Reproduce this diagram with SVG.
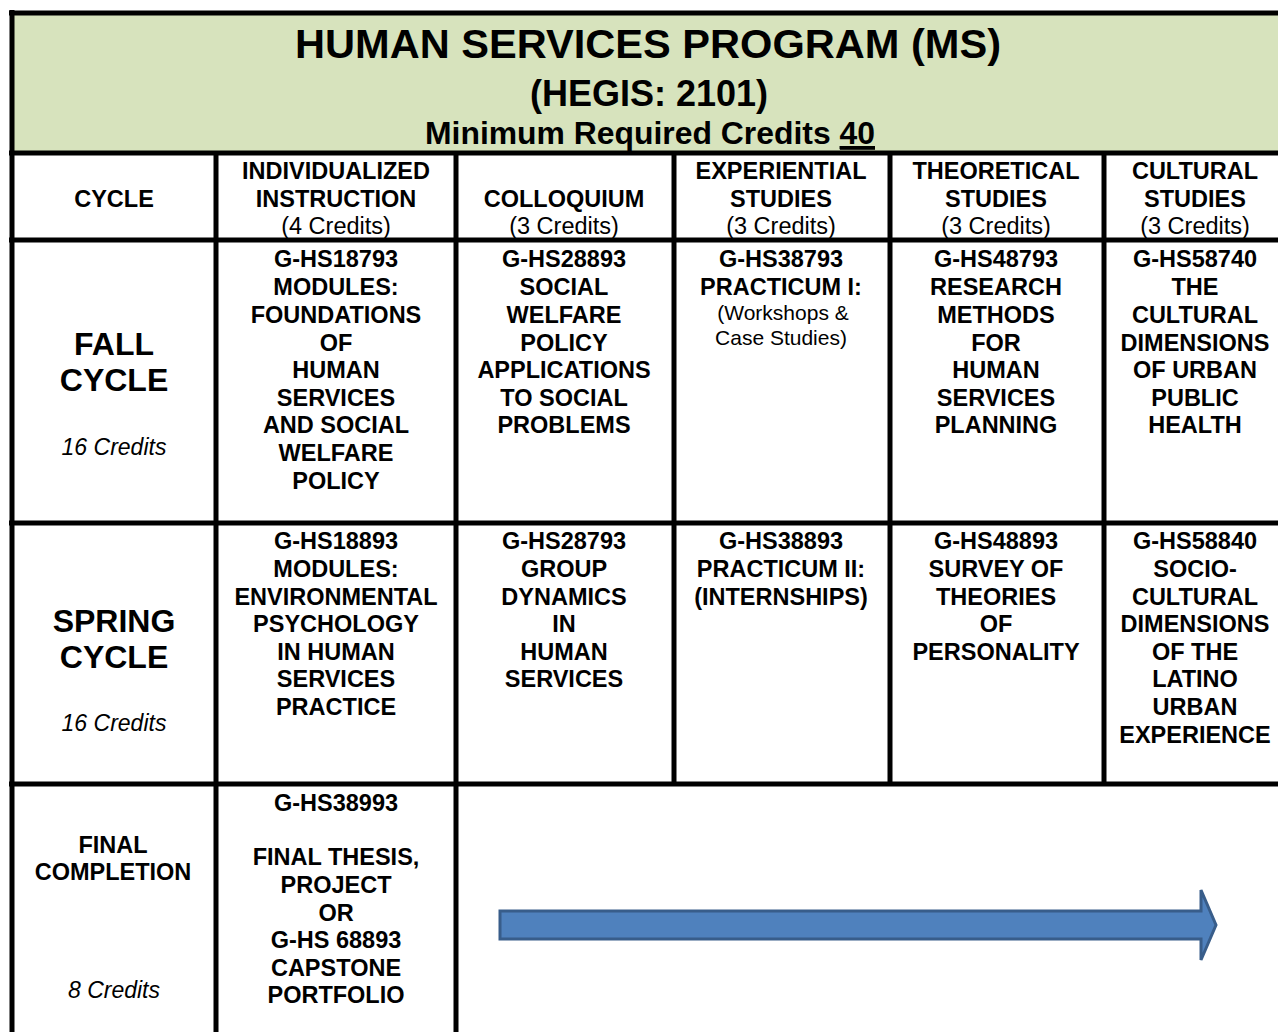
<svg xmlns="http://www.w3.org/2000/svg" width="1278" height="1032" viewBox="0 0 1278 1032">
<style>
text{font-family:"Liberation Sans",Arial,sans-serif;text-anchor:middle;fill:#000}
.b{font-weight:bold;font-size:23.5px}
.r{font-size:23.5px}
.s{font-size:21px}
.big{font-weight:bold;font-size:32px}
.it{font-style:italic;font-size:23px}
.grid{stroke:#000;stroke-width:5;fill:none}
</style>
<rect width="1278" height="1032" fill="#fff"/>
<rect x="12" y="13" width="1270" height="140" fill="#D7E3BD"/>
<g id="grid" class="grid">
<line x1="9" y1="13" x2="1278" y2="13"/>
<line x1="12" y1="10" x2="12" y2="1032"/>
<line x1="9" y1="153" x2="1278" y2="153"/>
<line x1="9" y1="240" x2="1278" y2="240"/>
<line x1="9" y1="523" x2="1278" y2="523"/>
<line x1="9" y1="784" x2="1278" y2="784"/>
<line x1="216" y1="153" x2="216" y2="1032"/>
<line x1="456" y1="153" x2="456" y2="1032"/>
<line x1="674" y1="153" x2="674" y2="784"/>
<line x1="890" y1="153" x2="890" y2="784"/>
<line x1="1104" y1="153" x2="1104" y2="784"/>
</g>
<g id="title">
<text x="648" y="58" font-weight="bold" font-size="40" textLength="706" lengthAdjust="spacingAndGlyphs">HUMAN SERVICES PROGRAM (MS)</text>
<text x="649" y="106" font-weight="bold" font-size="36">(HEGIS: 2101)</text>
<text x="650" y="144" font-weight="bold" font-size="32" textLength="450" lengthAdjust="spacingAndGlyphs">Minimum Required Credits <tspan text-decoration="underline">40</tspan></text>
<line x1="840" y1="148.5" x2="875" y2="148.5" stroke="#000" stroke-width="2.5"/>
</g>
<g id="hdr-cycle"><text class="b" x="114" y="207">CYCLE</text></g>
<g id="hdr-individualized">
<text class="b" x="336" y="179">INDIVIDUALIZED</text>
<text class="b" x="336" y="207">INSTRUCTION</text>
<text class="r" x="336" y="234">(4 Credits)</text>
</g>
<g id="hdr-colloquium">
<text class="b" x="564" y="207">COLLOQUIUM</text>
<text class="r" x="564" y="234">(3 Credits)</text>
</g>
<g id="hdr-experiential">
<text class="b" x="781" y="179">EXPERIENTIAL</text>
<text class="b" x="781" y="207">STUDIES</text>
<text class="r" x="781" y="234">(3 Credits)</text>
</g>
<g id="hdr-theoretical">
<text class="b" x="996" y="179">THEORETICAL</text>
<text class="b" x="996" y="207">STUDIES</text>
<text class="r" x="996" y="234">(3 Credits)</text>
</g>
<g id="hdr-cultural">
<text class="b" x="1195" y="179">CULTURAL</text>
<text class="b" x="1195" y="207">STUDIES</text>
<text class="r" x="1195" y="234">(3 Credits)</text>
</g>
<g id="fall-cycle">
<text class="big" x="114" y="355">FALL</text>
<text class="big" x="114" y="391">CYCLE</text>
<text class="it" x="114" y="455">16 Credits</text>
</g>
<g id="fall-individualized">
<text class="b" x="336" y="267">G-HS18793</text>
<text class="b" x="336" y="295">MODULES:</text>
<text class="b" x="336" y="323">FOUNDATIONS</text>
<text class="b" x="336" y="351">OF</text>
<text class="b" x="336" y="378">HUMAN</text>
<text class="b" x="336" y="406">SERVICES</text>
<text class="b" x="336" y="433">AND SOCIAL</text>
<text class="b" x="336" y="461">WELFARE</text>
<text class="b" x="336" y="489">POLICY</text>
</g>
<g id="fall-colloquium">
<text class="b" x="564" y="267">G-HS28893</text>
<text class="b" x="564" y="295">SOCIAL</text>
<text class="b" x="564" y="323">WELFARE</text>
<text class="b" x="564" y="351">POLICY</text>
<text class="b" x="564" y="378">APPLICATIONS</text>
<text class="b" x="564" y="406">TO SOCIAL</text>
<text class="b" x="564" y="433">PROBLEMS</text>
</g>
<g id="fall-experiential">
<text class="b" x="781" y="267">G-HS38793</text>
<text class="b" x="781" y="295">PRACTICUM I:</text>
<text class="s" x="783" y="320">(Workshops &amp;</text>
<text class="s" x="781" y="345">Case Studies)</text>
</g>
<g id="fall-theoretical">
<text class="b" x="996" y="267">G-HS48793</text>
<text class="b" x="996" y="295">RESEARCH</text>
<text class="b" x="996" y="323">METHODS</text>
<text class="b" x="996" y="351">FOR</text>
<text class="b" x="996" y="378">HUMAN</text>
<text class="b" x="996" y="406">SERVICES</text>
<text class="b" x="996" y="433">PLANNING</text>
</g>
<g id="fall-cultural">
<text class="b" x="1195" y="267">G-HS58740</text>
<text class="b" x="1195" y="295">THE</text>
<text class="b" x="1195" y="323">CULTURAL</text>
<text class="b" x="1195" y="351">DIMENSIONS</text>
<text class="b" x="1195" y="378">OF URBAN</text>
<text class="b" x="1195" y="406">PUBLIC</text>
<text class="b" x="1195" y="433">HEALTH</text>
</g>
<g id="spring-cycle">
<text class="big" x="114" y="632">SPRING</text>
<text class="big" x="114" y="668">CYCLE</text>
<text class="it" x="114" y="731">16 Credits</text>
</g>
<g id="spring-individualized">
<text class="b" x="336" y="549">G-HS18893</text>
<text class="b" x="336" y="577">MODULES:</text>
<text class="b" x="336" y="605">ENVIRONMENTAL</text>
<text class="b" x="336" y="632">PSYCHOLOGY</text>
<text class="b" x="336" y="660">IN HUMAN</text>
<text class="b" x="336" y="687">SERVICES</text>
<text class="b" x="336" y="715">PRACTICE</text>
</g>
<g id="spring-colloquium">
<text class="b" x="564" y="549">G-HS28793</text>
<text class="b" x="564" y="577">GROUP</text>
<text class="b" x="564" y="605">DYNAMICS</text>
<text class="b" x="564" y="632">IN</text>
<text class="b" x="564" y="660">HUMAN</text>
<text class="b" x="564" y="687">SERVICES</text>
</g>
<g id="spring-experiential">
<text class="b" x="781" y="549">G-HS38893</text>
<text class="b" x="781" y="577">PRACTICUM II:</text>
<text class="b" x="781" y="605">(INTERNSHIPS)</text>
</g>
<g id="spring-theoretical">
<text class="b" x="996" y="549">G-HS48893</text>
<text class="b" x="996" y="577">SURVEY OF</text>
<text class="b" x="996" y="605">THEORIES</text>
<text class="b" x="996" y="632">OF</text>
<text class="b" x="996" y="660">PERSONALITY</text>
</g>
<g id="spring-cultural">
<text class="b" x="1195" y="549">G-HS58840</text>
<text class="b" x="1195" y="577">SOCIO-</text>
<text class="b" x="1195" y="605">CULTURAL</text>
<text class="b" x="1195" y="632">DIMENSIONS</text>
<text class="b" x="1195" y="660">OF THE</text>
<text class="b" x="1195" y="687">LATINO</text>
<text class="b" x="1195" y="715">URBAN</text>
<text class="b" x="1195" y="743">EXPERIENCE</text>
</g>
<g id="final-cycle">
<text class="b" x="113" y="853">FINAL</text>
<text class="b" x="113" y="880">COMPLETION</text>
<text class="it" x="114" y="998">8 Credits</text>
</g>
<g id="final-individualized">
<text class="b" x="336" y="811">G-HS38993</text>
<text class="b" x="336" y="865">FINAL THESIS,</text>
<text class="b" x="336" y="893">PROJECT</text>
<text class="b" x="336" y="921">OR</text>
<text class="b" x="336" y="948">G-HS 68893</text>
<text class="b" x="336" y="976">CAPSTONE</text>
<text class="b" x="336" y="1003">PORTFOLIO</text>
</g>
<g id="connectors">
<polygon points="500,911 1201,911 1201,890 1216,925 1201,960 1201,939 500,939" fill="#4F81BD" stroke="#385D8A" stroke-width="3" stroke-linejoin="miter"/>
</g>
</svg>
